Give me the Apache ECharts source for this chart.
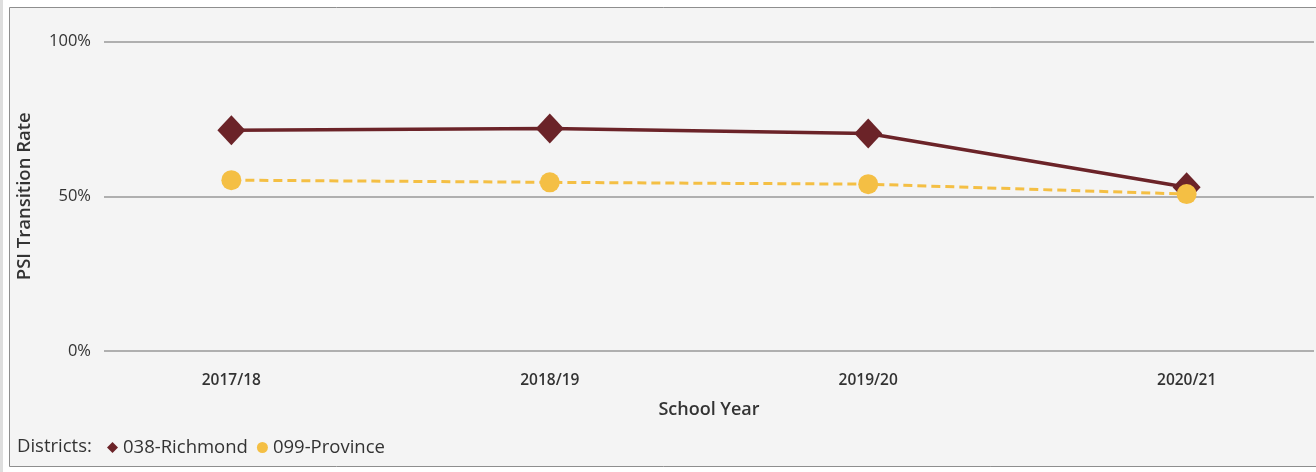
<!DOCTYPE html>
<html>
<head>
<meta charset="utf-8">
<script src="https://cdn.jsdelivr.net/npm/echarts@6/dist/echarts.min.js"></script>
<style>
  html, body { margin: 0; padding: 0; background: #ffffff; }
  #chart { width: 1316px; height: 472px; }
</style>
</head>
<body>
<div id="chart"></div>
<script>
// School years shown along the horizontal axis
const schoolYears = ['2017/18', '2018/19', '2019/20', '2020/21'];
// PSI transition rate (%) per school year
const richmond = [71.3, 71.9, 70.3, 52.9];
const province = [55.2, 54.5, 53.9, 50.7];
// Percent ticks on the vertical axis
const yTicks = [0, 50, 100];

const FONT = '"Open Sans", "Noto Sans", sans-serif';
const TEXT = '#333333';

const toPoints = vals => vals.map((v, i) => [i, v]);

const chart = echarts.init(document.getElementById('chart'), null, { renderer: 'canvas' });

chart.setOption({
  backgroundColor: '#ffffff',
  animation: false,
  textStyle: { fontFamily: FONT },
  graphic: [
    { type: 'rect', z: -10, shape: { x: 0, y: 0, width: 3, height: 472 }, style: { fill: '#dedede' } },
    { type: 'rect', z: -10, shape: { x: 9.5, y: 7.5, width: 1330, height: 459 },
      style: { fill: '#f4f4f4', stroke: '#8e8e8e', lineWidth: 1 } },
    { type: 'text', x: 17, y: 447,
      style: { text: 'Districts:', font: '18.5px ' + FONT, fill: TEXT, verticalAlign: 'middle' } }
  ],
  legend: {
    left: 102, top: 433,
    itemWidth: 11, itemHeight: 11, itemGap: 9,
    textStyle: { fontSize: 18.5, color: TEXT, fontFamily: FONT },
    data: [
      { name: '038-Richmond', icon: 'diamond' },
      { name: '099-Province', icon: 'circle' }
    ]
  },
  grid: { left: 104, right: 2, top: 41.5, bottom: 121 },
  xAxis: {
    type: 'value',
    min: -0.4, max: 3.4,
    name: 'School Year',
    nameLocation: 'middle',
    nameGap: 50,
    nameTextStyle: { fontSize: 18, fontWeight: 600, color: TEXT, fontFamily: FONT },
    axisLine: { show: false },
    axisTick: { show: false },
    splitLine: { show: false },
    axisLabel: {
      customValues: schoolYears.map((_, i) => i),
      formatter: v => schoolYears[Math.round(v)],
      margin: 22,
      fontSize: 15.5, fontWeight: 600, color: TEXT, fontFamily: FONT
    }
  },
  yAxis: {
    type: 'value',
    min: 0, max: 100, interval: 50,
    name: 'PSI Transition Rate',
    nameLocation: 'middle',
    nameGap: 70,
    nameTextStyle: { fontSize: 18.5, fontWeight: 600, color: TEXT, fontFamily: FONT },
    axisLine: { show: false },
    axisTick: { show: false },
    axisLabel: {
      customValues: yTicks,
      formatter: v => v + '%',
      margin: 13,
      fontSize: 16.5, color: TEXT, fontFamily: FONT
    },
    splitLine: { lineStyle: { color: '#999999', width: 1.5 } }
  },
  series: [
    {
      name: '038-Richmond',
      type: 'line',
      data: toPoints(richmond),
      symbol: 'diamond',
      symbolSize: [28, 30],
      itemStyle: { color: '#6b2328' },
      lineStyle: { color: '#6b2328', width: 3.5 },
      z: 2
    },
    {
      name: '099-Province',
      type: 'line',
      data: toPoints(province),
      symbol: 'circle',
      symbolSize: 20,
      itemStyle: { color: '#f4bf44' },
      lineStyle: { color: '#f4bf44', width: 3, type: [9, 5] },
      z: 3
    }
  ]
});
</script>
</body>
</html>
